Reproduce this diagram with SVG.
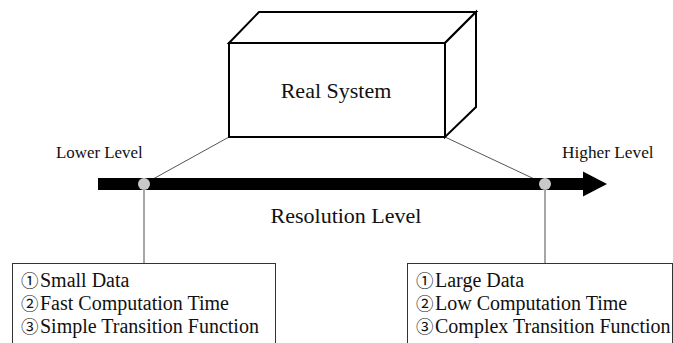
<svg xmlns="http://www.w3.org/2000/svg" width="673" height="343" viewBox="0 0 673 343">
<style>
text{fill:#111;font-family:"Liberation Serif","Noto Sans CJK JP",serif;}
.cd{font-family:"Noto Sans CJK JP","DejaVu Sans",sans-serif;font-size:17.5px;}
.box{fill:#fff;stroke:#000;stroke-width:2;stroke-linejoin:miter;}
.lbox{fill:#fff;stroke:#333;stroke-width:1;}
.thin{stroke:#555;stroke-width:1;fill:none;}
.vert{stroke:#888;stroke-width:1.5;fill:none;}
.dot{fill:#c8c8c8;}
</style>
<rect width="673" height="343" fill="#fff"/>
<g id="connectors">
<line class="thin" x1="229" y1="137" x2="144" y2="184"/>
<line class="thin" x1="445" y1="137" x2="545" y2="184"/>
<line class="vert" x1="144" y1="184" x2="144" y2="263.5"/>
<line class="vert" x1="545" y1="184" x2="545" y2="263.5"/>
</g>
<g id="real-system">
<polygon class="box" points="229,43 259,12 476,12 445,43"/>
<polygon class="box" points="445,43 476,12 476,107 445,137"/>
<rect class="box" x="229" y="43" width="216" height="94"/>
<text x="336" y="98" font-size="22" text-anchor="middle">Real System</text>
</g>
<g id="resolution-axis">
<rect x="98" y="178" width="486" height="12" fill="#000"/>
<polygon points="583,171.5 607,184 583,196.5" fill="#000"/>
<text x="346" y="223" font-size="22" text-anchor="middle">Resolution Level</text>
</g>
<g id="lower-level">
<text x="56" y="158" font-size="16.9">Lower Level</text>
<circle class="dot" cx="144" cy="184" r="6"/>
</g>
<g id="higher-level">
<text x="562" y="158" font-size="17.3">Higher Level</text>
<circle class="dot" cx="545" cy="184" r="6"/>
</g>
<g id="low-res-box">
<rect class="lbox" x="12.5" y="263.5" width="263" height="100"/>
<text font-size="20"><tspan class="cd" x="21" y="286.5">①</tspan><tspan x="40" y="287">Small Data</tspan></text>
<text font-size="20"><tspan class="cd" x="21" y="309.5">②</tspan><tspan x="40" y="310">Fast Computation Time</tspan></text>
<text font-size="20"><tspan class="cd" x="21" y="332.5">③</tspan><tspan x="40" y="333">Simple Transition Function</tspan></text>
</g>
<g id="high-res-box">
<rect class="lbox" x="407.5" y="263.5" width="265" height="100"/>
<text font-size="20"><tspan class="cd" x="416" y="286.5">①</tspan><tspan x="435" y="287">Large Data</tspan></text>
<text font-size="20"><tspan class="cd" x="416" y="309.5">②</tspan><tspan x="435" y="310">Low Computation Time</tspan></text>
<text font-size="20"><tspan class="cd" x="416" y="332.5">③</tspan><tspan x="435" y="333">Complex Transition Function</tspan></text>
</g>
</svg>
